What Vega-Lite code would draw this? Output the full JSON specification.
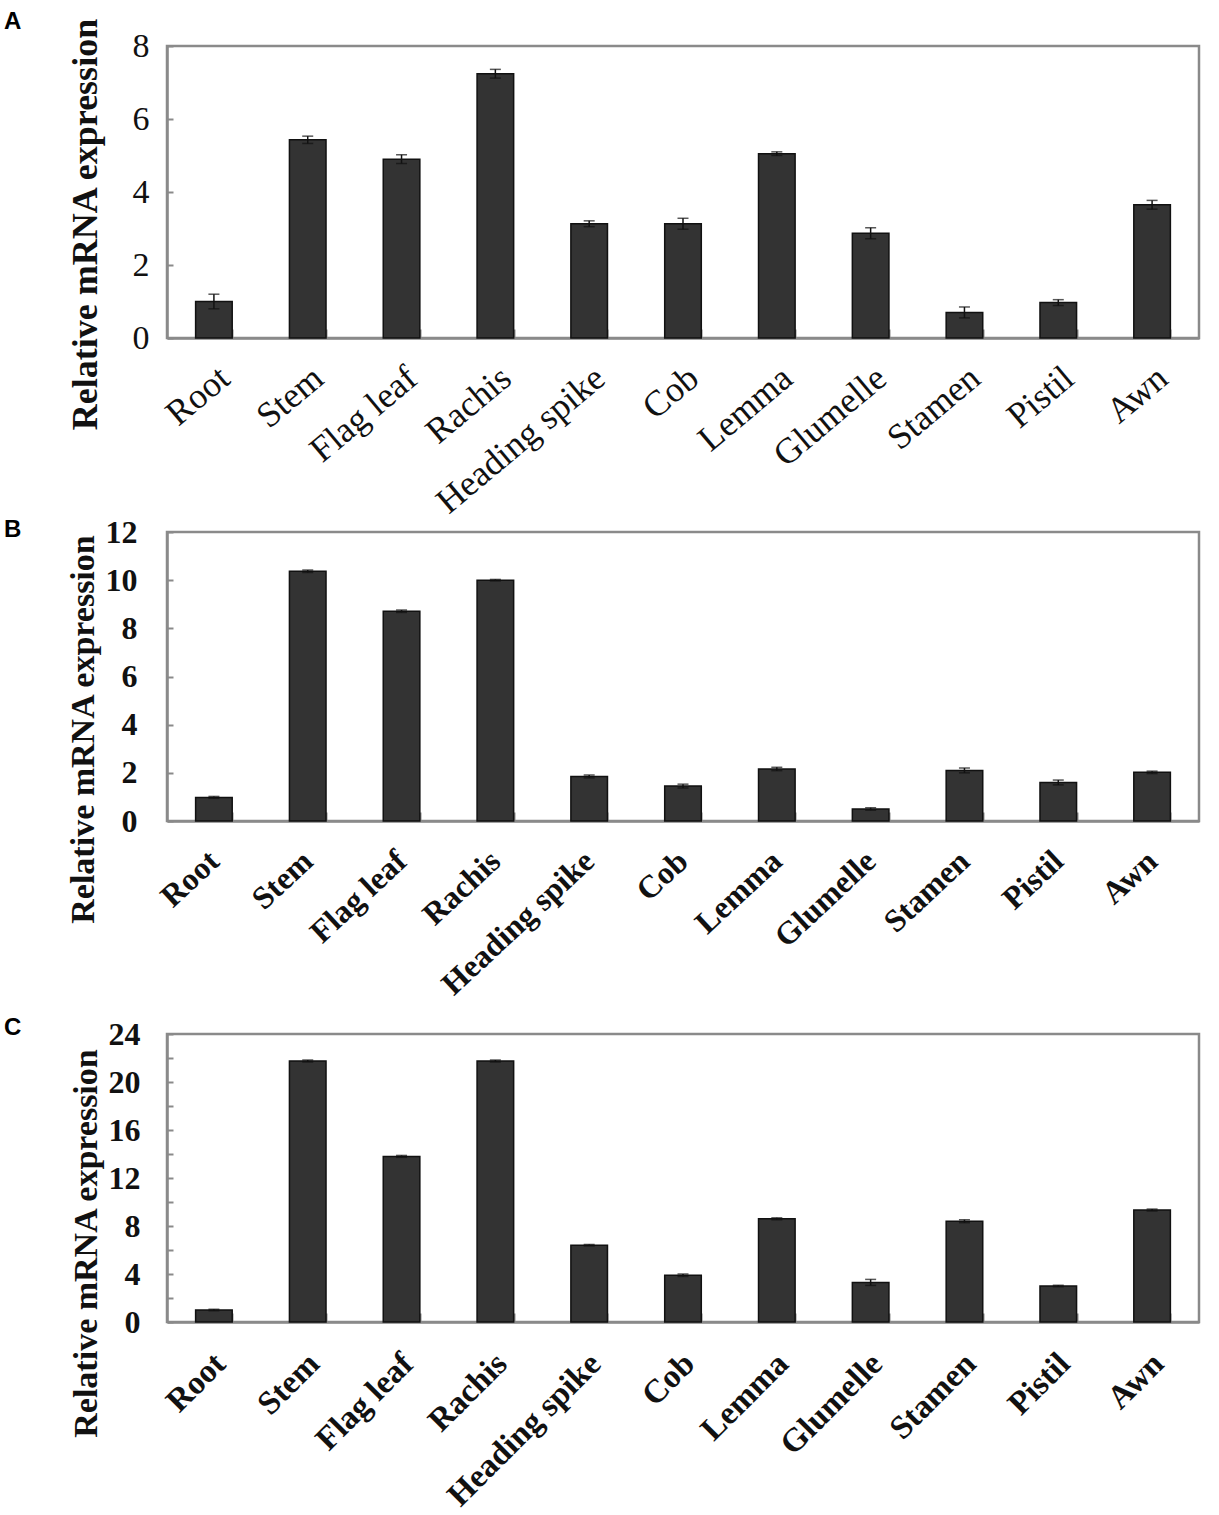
{
  "$schema": "https://vega.github.io/schema/vega-lite/v6.json",
  "padding": {"left": 2, "top": 9, "right": 20, "bottom": 5},
  "background": "white",
  "spacing": 12,
  "datasets": {
    "expr": [
      {"panel": "A", "tissue": "Root", "value": 1.0, "err": 0.2},
      {"panel": "A", "tissue": "Stem", "value": 5.43, "err": 0.1},
      {"panel": "A", "tissue": "Flag leaf", "value": 4.9, "err": 0.12},
      {"panel": "A", "tissue": "Rachis", "value": 7.24, "err": 0.12},
      {"panel": "A", "tissue": "Heading spike", "value": 3.13, "err": 0.08},
      {"panel": "A", "tissue": "Cob", "value": 3.13, "err": 0.15},
      {"panel": "A", "tissue": "Lemma", "value": 5.05, "err": 0.05},
      {"panel": "A", "tissue": "Glumelle", "value": 2.87, "err": 0.15},
      {"panel": "A", "tissue": "Stamen", "value": 0.7, "err": 0.15},
      {"panel": "A", "tissue": "Pistil", "value": 0.97, "err": 0.08},
      {"panel": "A", "tissue": "Awn", "value": 3.65, "err": 0.12},
      {"panel": "B", "tissue": "Root", "value": 0.98, "err": 0.04},
      {"panel": "B", "tissue": "Stem", "value": 10.37, "err": 0.05},
      {"panel": "B", "tissue": "Flag leaf", "value": 8.71, "err": 0.05},
      {"panel": "B", "tissue": "Rachis", "value": 10.0, "err": 0.03},
      {"panel": "B", "tissue": "Heading spike", "value": 1.85, "err": 0.06},
      {"panel": "B", "tissue": "Cob", "value": 1.45, "err": 0.08},
      {"panel": "B", "tissue": "Lemma", "value": 2.16, "err": 0.07},
      {"panel": "B", "tissue": "Glumelle", "value": 0.5, "err": 0.05},
      {"panel": "B", "tissue": "Stamen", "value": 2.1, "err": 0.1},
      {"panel": "B", "tissue": "Pistil", "value": 1.6, "err": 0.1},
      {"panel": "B", "tissue": "Awn", "value": 2.02, "err": 0.05},
      {"panel": "C", "tissue": "Root", "value": 1.0, "err": 0.06},
      {"panel": "C", "tissue": "Stem", "value": 21.75, "err": 0.08},
      {"panel": "C", "tissue": "Flag leaf", "value": 13.8, "err": 0.08},
      {"panel": "C", "tissue": "Rachis", "value": 21.75, "err": 0.08},
      {"panel": "C", "tissue": "Heading spike", "value": 6.4, "err": 0.06},
      {"panel": "C", "tissue": "Cob", "value": 3.9, "err": 0.1},
      {"panel": "C", "tissue": "Lemma", "value": 8.6, "err": 0.08},
      {"panel": "C", "tissue": "Glumelle", "value": 3.3, "err": 0.25},
      {"panel": "C", "tissue": "Stamen", "value": 8.4, "err": 0.12},
      {"panel": "C", "tissue": "Pistil", "value": 3.0, "err": 0.06},
      {"panel": "C", "tissue": "Awn", "value": 9.33, "err": 0.08}
    ]
  },
  "config": {
    "view": {"stroke": "#8a8a8a", "strokeWidth": 2.5},
    "axis": {
      "domainColor": "#8a8a8a",
      "domainWidth": 2.5,
      "tickColor": "#8a8a8a",
      "tickWidth": 2,
      "labelFont": "Liberation Serif",
      "labelColor": "#111",
      "labelLimit": 0,
      "titleFont": "Liberation Serif",
      "titleColor": "#111",
      "grid": false
    },
    "title": {
      "font": "Liberation Sans",
      "fontWeight": "bold",
      "fontSize": 24,
      "color": "#000",
      "anchor": "start",
      "frame": "group",
      "dx": -163
    }
  },
  "vconcat": [
    {
      "spacing": -8,
      "vconcat": [
        {
          "title": {"text": "A", "offset": -17},
          "width": 1032,
          "height": 292,
          "data": {"name": "expr"},
          "transform": [{"filter": "datum.panel == 'A'"}],
          "layer": [
            {
              "mark": {"type": "bar", "fill": "#333333", "stroke": "#111", "strokeWidth": 1.5},
              "encoding": {
                "x": {
                  "field": "tissue", "type": "nominal", "sort": null,
                  "scale": {"paddingInner": 0.61},
                  "axis": {"title": null, "labelAngle": -40, "labelFontSize": 36, "labelFontWeight": "normal", "ticks": false, "labelPadding": 22}
                },
                "y": {
                  "field": "value", "type": "quantitative",
                  "scale": {"domain": [0, 8], "nice": false},
                  "axis": {
                    "title": "Relative mRNA expression", "titleFontSize": 36, "titleFontWeight": "bold",
                    "titlePadding": 28, "titleY": 178,
                    "labelFontSize": 34, "labelFontWeight": "normal",
                    "values": [0, 2, 4, 6, 8], "ticks": false, "labelPadding": 18
                  }
                }
              }
            },
            {
              "mark": {"type": "errorbar", "ticks": {"size": 11}, "color": "#111", "thickness": 1.5},
              "encoding": {
                "x": {
                  "field": "tissue", "type": "nominal", "sort": null,
                  "axis": {"orient": "top", "offset": -292, "title": null, "labels": false, "domain": false, "tickBand": "extent", "tickSize": 9}
                },
                "y": {
                  "field": "value", "type": "quantitative",
                  "axis": {"orient": "right", "offset": -1032, "title": null, "labels": false, "domain": false, "values": [0, 2, 4, 6, 8], "tickSize": 6}
                },
                "yError": {"field": "err"}
              }
            }
          ],
          "resolve": {"axis": {"x": "independent", "y": "independent"}}
        },
        {
          "title": {"text": "B", "offset": -26},
          "width": 1032,
          "height": 289,
          "data": {"name": "expr"},
          "transform": [{"filter": "datum.panel == 'B'"}],
          "layer": [
            {
              "mark": {"type": "bar", "fill": "#333333", "stroke": "#111", "strokeWidth": 1.5},
              "encoding": {
                "x": {
                  "field": "tissue", "type": "nominal", "sort": null,
                  "scale": {"paddingInner": 0.61},
                  "axis": {"title": null, "labelAngle": -43, "labelFontSize": 32, "labelFontWeight": "bold", "ticks": false, "labelPadding": 24, "labelOffset": -10}
                },
                "y": {
                  "field": "value", "type": "quantitative",
                  "scale": {"domain": [0, 12], "nice": false},
                  "axis": {
                    "title": "Relative mRNA expression", "titleFontSize": 34, "titleFontWeight": "bold",
                    "titlePadding": 5, "titleY": 197,
                    "labelFontSize": 32, "labelFontWeight": "bold",
                    "values": [0, 2, 4, 6, 8, 10, 12], "ticks": false, "labelPadding": 30
                  }
                }
              }
            },
            {
              "mark": {"type": "errorbar", "ticks": {"size": 11}, "color": "#111", "thickness": 1.5},
              "encoding": {
                "x": {
                  "field": "tissue", "type": "nominal", "sort": null,
                  "axis": {"orient": "top", "offset": -289, "title": null, "labels": false, "domain": false, "tickBand": "extent", "tickSize": 9}
                },
                "y": {
                  "field": "value", "type": "quantitative",
                  "axis": {"orient": "right", "offset": -1032, "title": null, "labels": false, "domain": false, "values": [0, 2, 4, 6, 8, 10, 12], "tickSize": 6}
                },
                "yError": {"field": "err"}
              }
            }
          ],
          "resolve": {"axis": {"x": "independent", "y": "independent"}}
        }
      ]
    },
    {
      "title": {"text": "C", "offset": -22},
      "width": 1032,
      "height": 288,
      "data": {"name": "expr"},
      "transform": [{"filter": "datum.panel == 'C'"}],
      "layer": [
        {
          "mark": {"type": "bar", "fill": "#333333", "stroke": "#111", "strokeWidth": 1.5},
          "encoding": {
            "x": {
              "field": "tissue", "type": "nominal", "sort": null,
              "scale": {"paddingInner": 0.61},
              "axis": {"title": null, "labelAngle": -45, "labelFontSize": 33, "labelFontWeight": "bold", "ticks": false, "labelPadding": 25, "labelOffset": -5}
            },
            "y": {
              "field": "value", "type": "quantitative",
              "scale": {"domain": [0, 24], "nice": false},
              "axis": {
                "title": "Relative mRNA expression", "titleFontSize": 34, "titleFontWeight": "bold",
                "titlePadding": 5, "titleY": 209,
                "labelFontSize": 32, "labelFontWeight": "bold",
                "values": [0, 4, 8, 12, 16, 20, 24], "ticks": false, "labelPadding": 27
              }
            }
          }
        },
        {
          "mark": {"type": "errorbar", "ticks": {"size": 11}, "color": "#111", "thickness": 1.5},
          "encoding": {
            "x": {
              "field": "tissue", "type": "nominal", "sort": null,
              "axis": {"orient": "top", "offset": -288, "title": null, "labels": false, "domain": false, "tickBand": "extent", "tickSize": 9}
            },
            "y": {
              "field": "value", "type": "quantitative",
              "axis": {"orient": "right", "offset": -1032, "title": null, "labels": false, "domain": false, "values": [0, 2, 4, 6, 8, 10, 12, 14, 16, 18, 20, 22, 24], "tickSize": 6}
            },
            "yError": {"field": "err"}
          }
        }
      ],
      "resolve": {"axis": {"x": "independent", "y": "independent"}}
    }
  ]
}
